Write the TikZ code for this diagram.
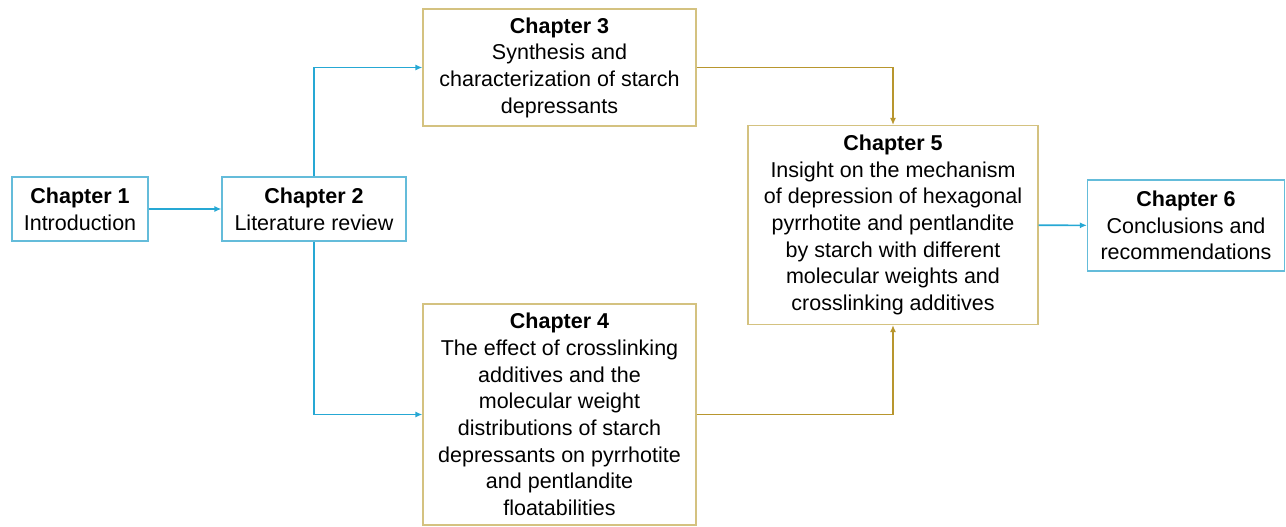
\documentclass[tikz,border=0pt]{standalone}
\usepackage{fontspec}
\setmainfont{Liberation Sans}
\usetikzlibrary{arrows.meta}

\definecolor{lineblue}{RGB}{38,168,212}
\definecolor{boxblue}{RGB}{100,188,218}
\definecolor{linegold}{RGB}{184,150,46}
\definecolor{boxgold}{RGB}{212,194,128}

\begin{document}
\begin{tikzpicture}[x=1pt, y=-1pt,
        chapbox/.style={draw, line width=1.1pt, fill=white, align=center, inner sep=0pt,
            font=\fontsize{21.5}{26.7}\selectfont},
        bluebox/.style={chapbox, draw=boxblue},
        goldbox/.style={chapbox, draw=boxgold},
        bluearrow/.style={lineblue, line width=1.6pt, -{Latex[length=7pt,width=6pt]}},
        goldarrow/.style={linegold, line width=1.6pt, -{Latex[length=7pt,width=6pt]}}]
                \useasboundingbox (0,0) rectangle (1286,527);

                % Chapters
                \node[bluebox, minimum width=136pt, minimum height=64pt] (ch1) at (80,209)
                    {\textbf{Chapter 1}\\Introduction};
                \node[bluebox, minimum width=184pt, minimum height=64pt] (ch2) at (314,209)
                    {\textbf{Chapter 2}\\Literature review};
                \node[goldbox, minimum width=273pt, minimum height=117pt] (ch3) at (559.5,67.5)
                    {\textbf{Chapter 3}\\Synthesis and\\characterization of starch\\depressants};
                \node[goldbox, minimum width=273pt, minimum height=221pt] (ch4) at (559.5,414.5)
                    {\textbf{Chapter 4}\\The effect of crosslinking\\additives and the\\molecular weight\\distributions of starch\\depressants on pyrrhotite\\and pentlandite\\floatabilities};
                \node[goldbox, minimum width=290pt, minimum height=199pt] (ch5) at (893,225)
                    {\textbf{Chapter 5}\\Insight on the mechanism\\of depression of hexagonal\\pyrrhotite and pentlandite\\by starch with different\\molecular weights and\\crosslinking additives};
                \node[bluebox, minimum width=197pt, minimum height=91pt] (ch6) at (1186,225.5)
                    {\textbf{Chapter 6}\\Conclusions and\\recommendations};

                % Connectors
                \draw[bluearrow] (ch1) -- (ch2);
                \draw[bluearrow] (ch2.north) |- (ch3.west);
                \draw[bluearrow] (ch2.south) |- (ch4.west);
                \draw[goldarrow] (ch3.east) -| (ch5.north);
                \draw[goldarrow] (ch4.east) -| (ch5.south);
                \draw[bluearrow] (ch5) -- (ch6);
            \end{tikzpicture}
\end{document}
